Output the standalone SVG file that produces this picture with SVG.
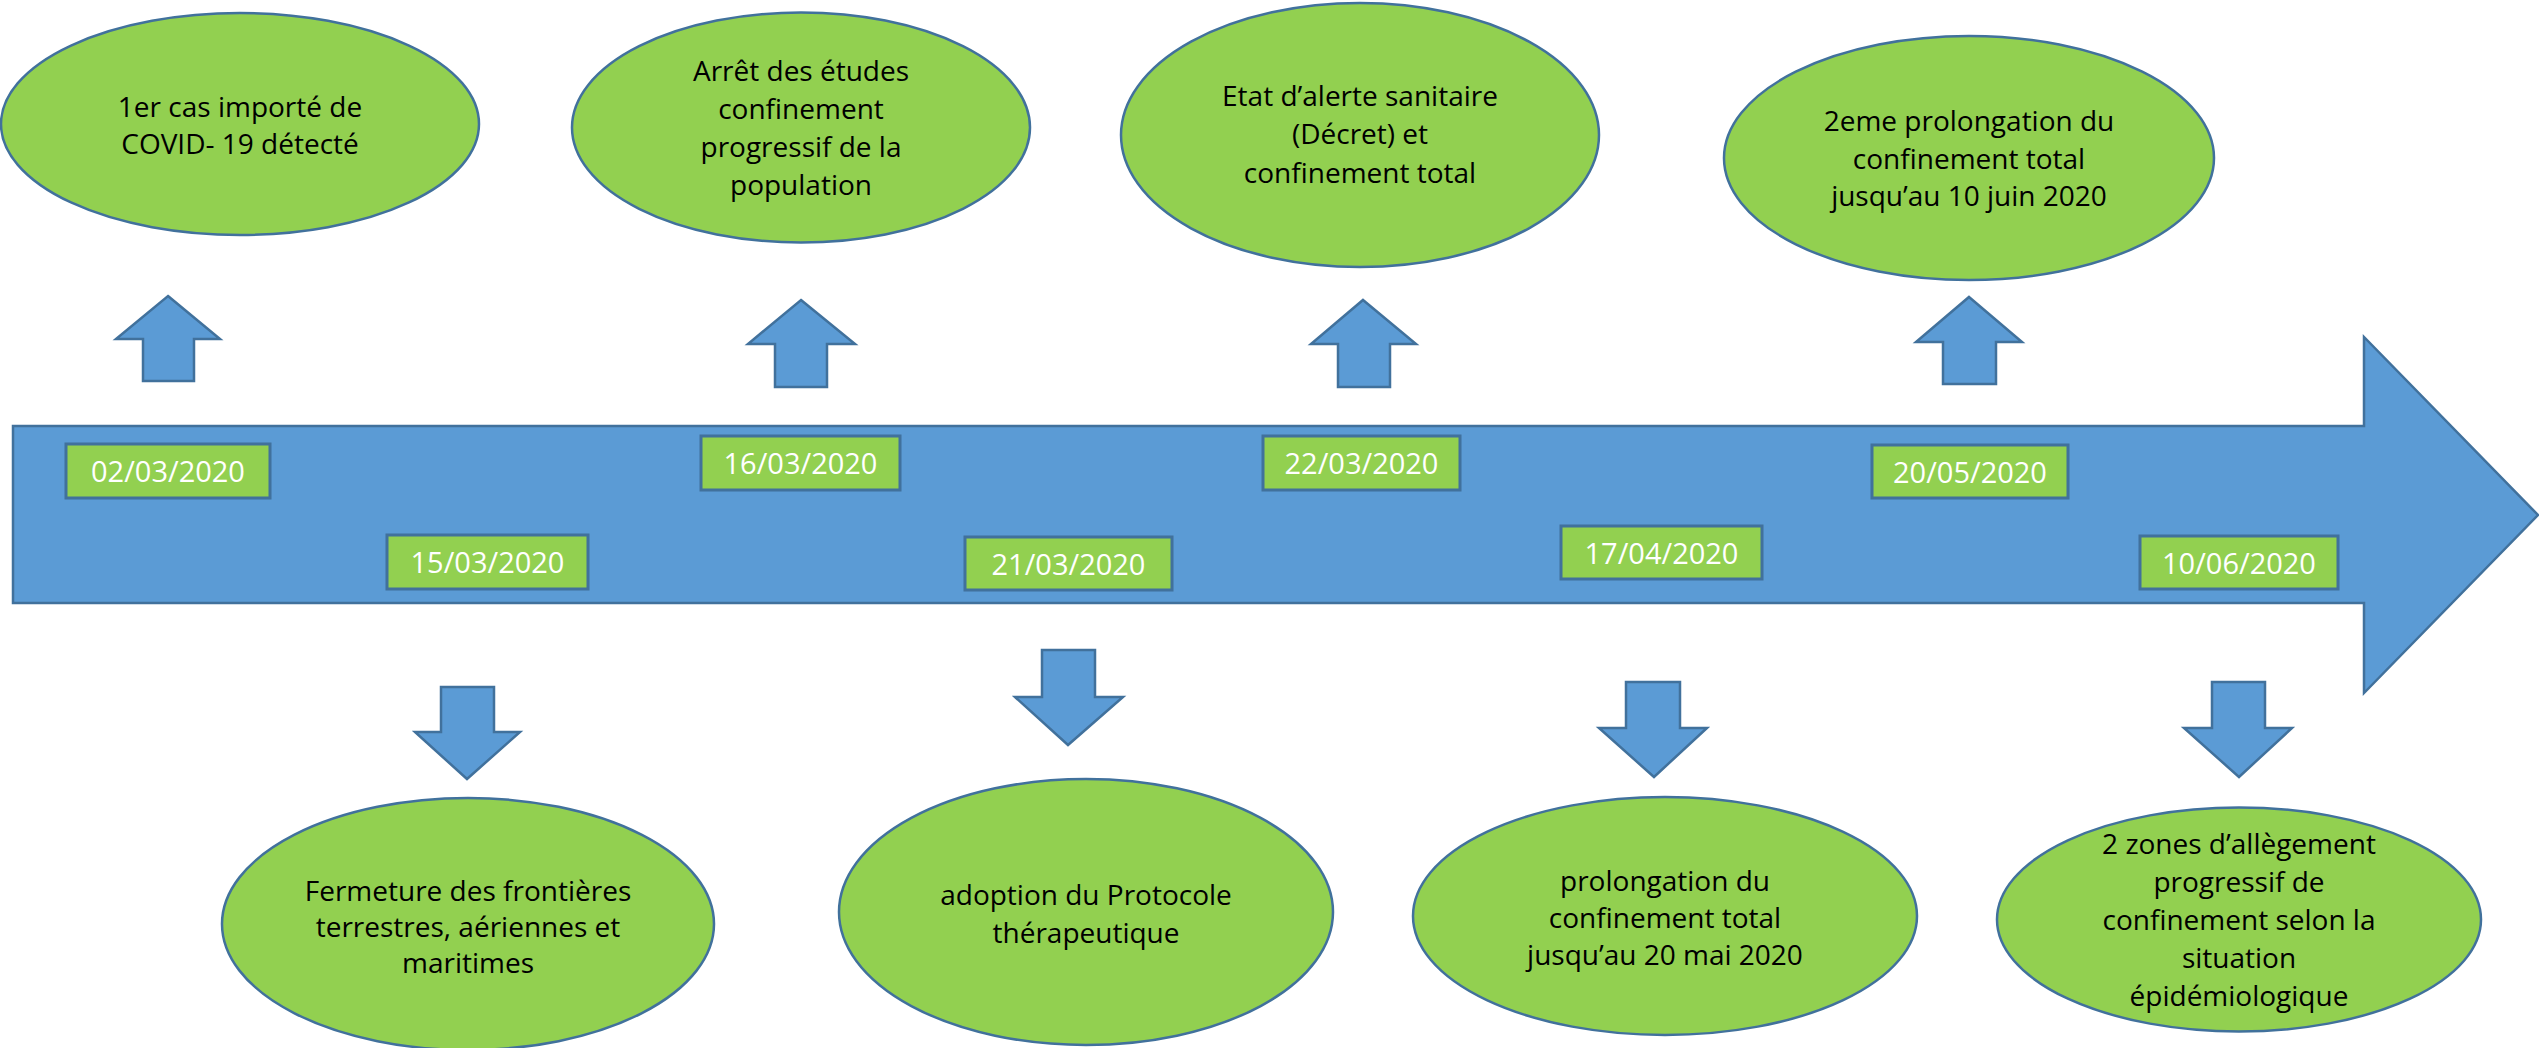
<svg xmlns="http://www.w3.org/2000/svg" width="2539" height="1048" viewBox="0 0 2539 1048">
<style>
.bg{fill:#ffffff}
.tl{fill:#5B9BD5;stroke:#41719C;stroke-width:2.5}
.arr{fill:#5B9BD5;stroke:#41719C;stroke-width:2.5;stroke-linejoin:miter}
.ev{fill:#92D050;stroke:#41719C;stroke-width:2.5}
.box{fill:#92D050;stroke:#41719C;stroke-width:3}
.t{font-family:'Open Sans','Liberation Sans',sans-serif;font-size:28px;fill:#000;text-anchor:middle}
.d{font-family:'Open Sans','Liberation Sans',sans-serif;font-size:29px;fill:#fff;text-anchor:middle}
</style>
<rect class="bg" x="0" y="0" width="2539" height="1048"/>
<g id="timeline">
<path class="tl" d="M13,426 L2364,426 L2364,337 L2538,515 L2364,693 L2364,603 L13,603 Z"/>
</g>
<g id="connectors">
<path class="arr" d="M168,296 L220,339 L194,339 L194,381 L143,381 L143,339 L116,339 Z"/>
<path class="arr" d="M801,300 L855,344 L827,344 L827,387 L775,387 L775,344 L748,344 Z"/>
<path class="arr" d="M1363,300 L1416,344 L1390,344 L1390,387 L1338,387 L1338,344 L1311,344 Z"/>
<path class="arr" d="M1969,297 L2022,342 L1996,342 L1996,384 L1943,384 L1943,342 L1916,342 Z"/>
<path class="arr" d="M441,687 L494,687 L494,732 L520,732 L467,779 L415,732 L441,732 Z"/>
<path class="arr" d="M1042,650 L1095,650 L1095,697 L1123,697 L1068,745 L1015,697 L1042,697 Z"/>
<path class="arr" d="M1626,682 L1680,682 L1680,728 L1707,728 L1654,777 L1599,728 L1626,728 Z"/>
<path class="arr" d="M2212,682 L2265,682 L2265,728 L2292,728 L2239,777 L2184,728 L2212,728 Z"/>
</g>
<g id="date-0203"><rect class="box" x="66" y="444" width="204" height="54"/><text class="d" x="168" y="482">02/03/2020</text></g>
<g id="date-1503"><rect class="box" x="387" y="535" width="201" height="54"/><text class="d" x="487.5" y="573">15/03/2020</text></g>
<g id="date-1603"><rect class="box" x="701" y="436" width="199" height="54"/><text class="d" x="800.5" y="474">16/03/2020</text></g>
<g id="date-2103"><rect class="box" x="965" y="537" width="207" height="53"/><text class="d" x="1068.5" y="575">21/03/2020</text></g>
<g id="date-2203"><rect class="box" x="1263" y="436" width="197" height="54"/><text class="d" x="1361.5" y="474">22/03/2020</text></g>
<g id="date-1704"><rect class="box" x="1561" y="526" width="201" height="53"/><text class="d" x="1661.5" y="564">17/04/2020</text></g>
<g id="date-2005"><rect class="box" x="1872" y="445" width="196" height="53"/><text class="d" x="1970" y="483">20/05/2020</text></g>
<g id="date-1006"><rect class="box" x="2140" y="536" width="198" height="53"/><text class="d" x="2239" y="574">10/06/2020</text></g>
<g id="event-1">
<ellipse class="ev" cx="240" cy="124" rx="239" ry="111"/>
<text class="t"><tspan x="240" y="117">1er cas importé de</tspan><tspan x="240" y="153.5">COVID- 19 détecté</tspan></text>
</g>
<g id="event-2">
<ellipse class="ev" cx="801" cy="127.5" rx="229" ry="115"/>
<text class="t"><tspan x="801" y="81">Arrêt des études</tspan><tspan x="801" y="119">confinement</tspan><tspan x="801" y="157">progressif de la</tspan><tspan x="801" y="195">population</tspan></text>
</g>
<g id="event-3">
<ellipse class="ev" cx="1360" cy="135" rx="239" ry="132"/>
<text class="t"><tspan x="1360" y="106">Etat d’alerte sanitaire</tspan><tspan x="1360" y="144">(Décret) et</tspan><tspan x="1360" y="183">confinement total</tspan></text>
</g>
<g id="event-4">
<ellipse class="ev" cx="1969" cy="158" rx="245" ry="122"/>
<text class="t"><tspan x="1969" y="131">2eme prolongation du</tspan><tspan x="1969" y="168.5">confinement total</tspan><tspan x="1969" y="206">jusqu’au 10 juin 2020</tspan></text>
</g>
<g id="event-5">
<ellipse class="ev" cx="468" cy="924" rx="246" ry="126"/>
<text class="t"><tspan x="468" y="901">Fermeture des frontières</tspan><tspan x="468" y="937">terrestres, aériennes et</tspan><tspan x="468" y="973">maritimes</tspan></text>
</g>
<g id="event-6">
<ellipse class="ev" cx="1086" cy="912" rx="247" ry="133"/>
<text class="t"><tspan x="1086" y="905">adoption du Protocole</tspan><tspan x="1086" y="943">thérapeutique</tspan></text>
</g>
<g id="event-7">
<ellipse class="ev" cx="1665" cy="916" rx="252" ry="119"/>
<text class="t"><tspan x="1665" y="891">prolongation du</tspan><tspan x="1665" y="928">confinement total</tspan><tspan x="1665" y="965">jusqu’au 20 mai 2020</tspan></text>
</g>
<g id="event-8">
<ellipse class="ev" cx="2239" cy="919.5" rx="242" ry="112"/>
<text class="t"><tspan x="2239" y="854">2 zones d’allègement</tspan><tspan x="2239" y="892">progressif de</tspan><tspan x="2239" y="930">confinement selon la</tspan><tspan x="2239" y="968">situation</tspan><tspan x="2239" y="1006">épidémiologique</tspan></text>
</g>
</svg>
